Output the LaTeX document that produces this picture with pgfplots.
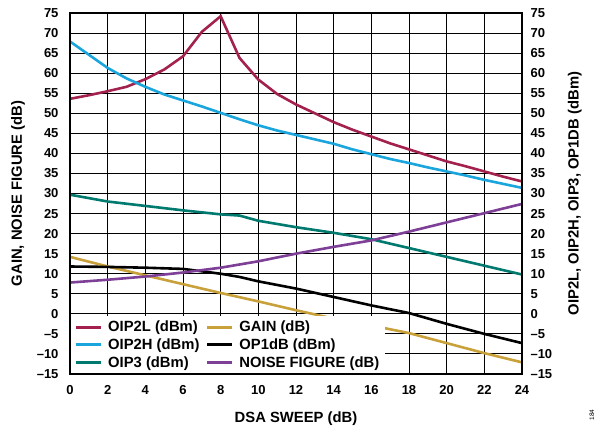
\documentclass[border=0pt]{standalone}
\usepackage{fontspec}
\setmainfont{Liberation Sans}
\usepackage{pgfplots}
\pgfplotsset{compat=1.18}
\definecolor{oiptwol}{HTML}{A3214F}
\definecolor{oiptwoh}{HTML}{1BA5DD}
\definecolor{oipthree}{HTML}{00796F}
\definecolor{gaincol}{HTML}{C9A13B}
\definecolor{nfcol}{HTML}{7E3F96}
\newcommand{\tickfont}{\fontsize{13bp}{15bp}\selectfont\bfseries}
\newcommand{\labfont}{\fontsize{14.8bp}{17bp}\selectfont\bfseries}
\begin{document}
\begin{tikzpicture}
\useasboundingbox (-70bp,-56bp) rectangle (529bp,374bp);
\pgfplotsset{
  mybase/.style={
    at={(0,0)}, anchor=south west,
    scale only axis, width=452bp, height=361bp,
    xmin=0, xmax=24, ymin=-15, ymax=75,
    xtick={0,2,...,24}, ytick={-15,-10,...,75},
    yticklabels={\textendash15,\textendash10,\textendash5,0,5,10,15,20,25,30,35,40,45,50,55,60,65,70,75},
    tick style={draw=none},
    ticklabel style={font=\tickfont},
    xticklabel style={yshift=-8bp},
    axis line style={line width=1.3bp},
    /pgf/number format/assume math mode=true,
  }
}
\begin{axis}[mybase,
  yticklabel style={xshift=-8bp},
  grid=major, major grid style={black, line width=0.9bp},
  xlabel={DSA SWEEP (dB)},
  ylabel={GAIN, NOISE FIGURE (dB)},
  every axis x label/.style={at={(axis description cs:0.5,-0.1357)}, anchor=base, font=\labfont},
  every axis y label/.style={at={(axis description cs:-0.115,0.5)}, rotate=90, anchor=center, font=\labfont},
  legend columns=2,
  legend cell align=left,
  legend style={at={(axis cs:0,-15)}, anchor=south west, fill=white, draw=none,
    font=\labfont, inner xsep=4bp, inner ysep=3bp, row sep=1.5bp,
    /tikz/every odd column/.append style={column sep=4bp},
    /tikz/every even column/.append style={column sep=4bp}},
  legend image code/.code={\draw[#1, line width=3bp] (0bp,0bp) -- (25bp,0bp);},
  every axis plot/.append style={line width=2.6bp},
]
\addplot[oiptwol] coordinates {(0,53.6)(1,54.5)(2,55.5)(3,56.6)(4,58.5)(5,60.9)(6,64.2)(7,70.3)(8,74.2)(9,63.8)(10,58.4)(11,54.8)(12,52.2)(13,50.0)(14,47.8)(15,45.9)(16,44.2)(17,42.5)(18,41.0)(19,39.5)(20,38.0)(21,36.8)(22,35.5)(23,34.2)(24,33.0)};
\addlegendentry{OIP2L (dBm)}
\addplot[gaincol] coordinates {(0,14.2)(2,11.8)(4,9.6)(6,7.4)(8,5.2)(10,3.1)(12,0.9)(14,-1.2)(16,-2.9)(18,-4.8)(20,-7.3)(22,-9.8)(24,-12.1)};
\addlegendentry{GAIN (dB)}
\addplot[oiptwoh] coordinates {(0,67.9)(1,64.6)(2,61.3)(3,58.7)(4,56.6)(5,54.7)(6,53.2)(7,51.7)(8,50.1)(9,48.5)(10,47.0)(11,45.7)(12,44.6)(13,43.5)(14,42.4)(15,41.0)(16,39.8)(17,38.6)(18,37.6)(19,36.5)(20,35.5)(21,34.5)(22,33.4)(23,32.4)(24,31.4)};
\addlegendentry{OIP2H (dBm)}
\addplot[black] coordinates {(0,11.8)(2,11.7)(4,11.5)(6,11.2)(8,10.0)(9,9.2)(10,8.1)(12,6.3)(14,4.2)(16,2.1)(18,0.2)(20,-2.5)(22,-5.0)(24,-7.3)};
\addlegendentry{OP1dB (dBm)}
\addplot[oipthree] coordinates {(0,29.7)(2,28.0)(4,26.9)(6,25.8)(8,24.8)(9,24.5)(10,23.2)(12,21.6)(14,20.2)(16,18.6)(18,16.4)(20,14.2)(22,12.0)(24,9.8)};
\addlegendentry{OIP3 (dBm)}
\addplot[nfcol] coordinates {(0,7.8)(2,8.5)(4,9.3)(6,10.3)(8,11.5)(10,13.1)(12,15.0)(14,16.7)(16,18.3)(18,20.5)(20,22.8)(22,25.1)(24,27.4)};
\addlegendentry{NOISE FIGURE (dB)}
\end{axis}
\begin{axis}[mybase,
  yticklabel pos=right,
  yticklabel style={xshift=5bp},
  xticklabels={},
  ylabel={OIP2L, OIP2H, OIP3, OP1DB (dBm)},
  every axis y label/.style={at={(axis description cs:1.117,0.5)}, rotate=90, anchor=center, font=\labfont},
]
\end{axis}
\node[rotate=90, font=\fontsize{6.5bp}{7bp}\selectfont, anchor=center] at (522bp,-41bp) {184};
\end{tikzpicture}
\end{document}
